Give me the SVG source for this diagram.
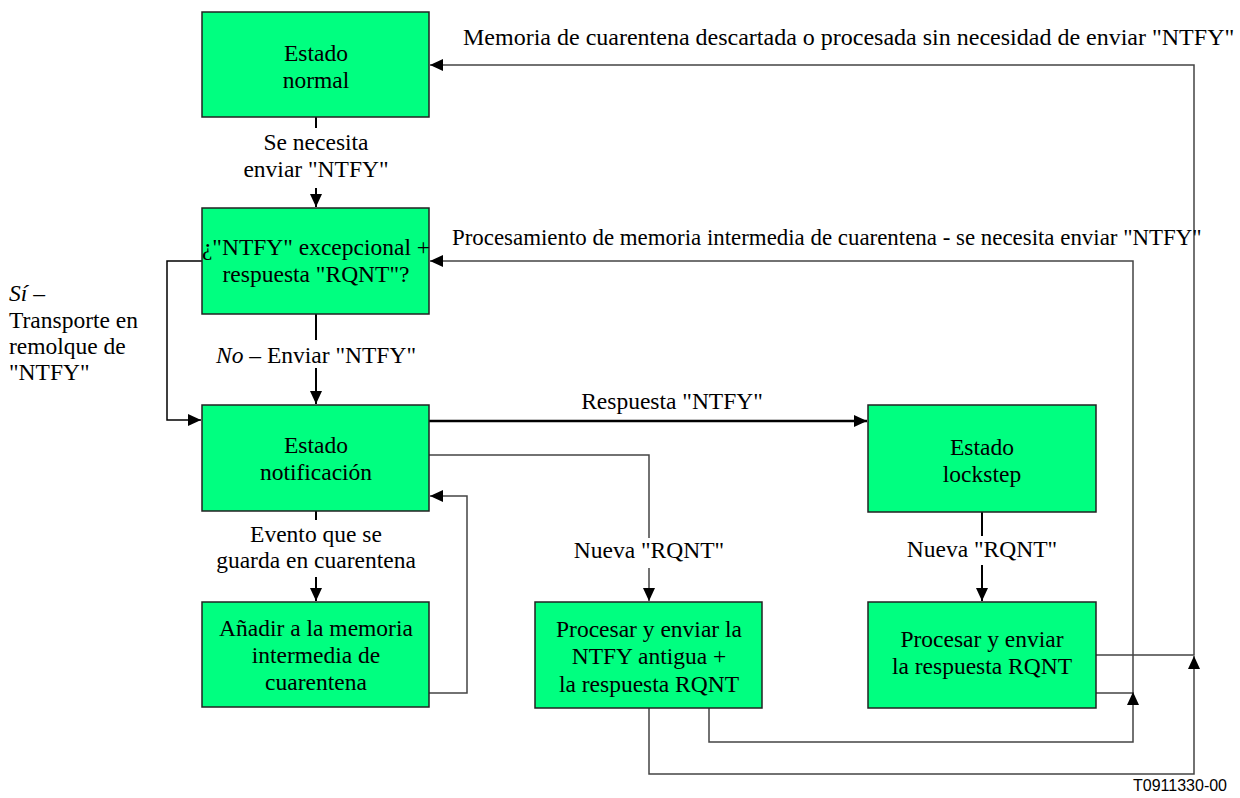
<svg xmlns="http://www.w3.org/2000/svg" width="1240" height="798" viewBox="0 0 1240 798">
<style>
.box{fill:#00FF80;stroke:#222;stroke-width:1.5}
.t{font-family:'Liberation Serif','Times New Roman',Tinos,'DejaVu Serif',serif;font-size:23.5px;fill:#000;text-anchor:middle}
.tl{font-family:'Liberation Serif','Times New Roman',Tinos,'DejaVu Serif',serif;font-size:23.5px;fill:#000}
.c{fill:none;stroke:#000;stroke-width:2}
.g{fill:none;stroke:#444;stroke-width:1.5}
.code{font-family:'Liberation Sans',Arial,sans-serif;font-size:16px;fill:#000}
</style>
<defs>
<marker id="ah" markerUnits="userSpaceOnUse" markerWidth="14" markerHeight="12" refX="13" refY="6" orient="auto">
<path d="M0,0 L13,6 L0,12 Z" fill="#000"/>
</marker>
</defs>
<rect width="1240" height="798" fill="#fff"/>
<g id="connectors">
<path class="c" d="M316,117 V128"/>
<path class="c" d="M316,188 V207" marker-end="url(#ah)"/>
<path class="c" d="M316,314 V340"/>
<path class="c" d="M316,368 V404" marker-end="url(#ah)"/>
<path class="g" style="stroke:#000" d="M202,261 H167 V420 H201" marker-end="url(#ah)"/>
<path class="c" style="stroke-width:2.5" d="M429,421 H867" marker-end="url(#ah)"/>
<path class="g" d="M429,455 H649 V538"/>
<path class="g" d="M649,568 V601" marker-end="url(#ah)"/>
<path class="c" d="M316,511 V520"/>
<path class="c" d="M316,577 V601" marker-end="url(#ah)"/>
<path class="g" d="M429,693 H467 V496 H430" marker-end="url(#ah)"/>
<path class="c" d="M982,512 V536"/>
<path class="c" d="M982,565 V601" marker-end="url(#ah)"/>
<path class="g" d="M1096,655 H1194 V65 H430" marker-end="url(#ah)"/>
<path class="g" d="M1096,693 H1133 V261 H430" marker-end="url(#ah)"/>
<path class="g" d="M649,708 V774 H1194 V656" marker-end="url(#ah)"/>
<path class="g" d="M709,708 V742 H1133 V692" marker-end="url(#ah)"/>
</g>
<g id="labels">
<text class="t" x="316" y="150">Se necesita</text>
<text class="t" x="316" y="177">enviar "NTFY"</text>
<text class="t" x="316" y="363"><tspan font-style="italic">No</tspan> – Enviar "NTFY"</text>
<text class="t" x="316" y="542">Evento que se</text>
<text class="t" x="316" y="568">guarda en cuarentena</text>
<text class="t" x="672" y="409">Respuesta "NTFY"</text>
<text class="t" x="649" y="558">Nueva "RQNT"</text>
<text class="t" x="982" y="557">Nueva "RQNT"</text>
<text class="tl" x="463" y="45" style="font-size:24px">Memoria de cuarentena descartada o procesada sin necesidad de enviar "NTFY"</text>
<text class="tl" x="452" y="245" style="font-size:22.9px">Procesamiento de memoria intermedia de cuarentena - se necesita enviar "NTFY"</text>
<text class="tl" x="9" y="301"><tspan font-style="italic">Sí</tspan> –</text>
<text class="tl" x="9" y="328">Transporte en</text>
<text class="tl" x="9" y="354">remolque de</text>
<text class="tl" x="9" y="380">"NTFY"</text>
</g>
<g id="n1"><rect class="box" x="202" y="12" width="227" height="105"/>
<text class="t" x="316" y="61">Estado</text><text class="t" x="316" y="88">normal</text></g>
<g id="n2"><rect class="box" x="202" y="208" width="227" height="106"/>
<text class="t" x="316" y="255">¿"NTFY" excepcional +</text><text class="t" x="316" y="282">respuesta "RQNT"?</text></g>
<g id="n3"><rect class="box" x="202" y="405" width="227" height="106"/>
<text class="t" x="316" y="453">Estado</text><text class="t" x="316" y="480">notificación</text></g>
<g id="n4"><rect class="box" x="202" y="602" width="227" height="105"/>
<text class="t" x="316" y="636">Añadir a la memoria</text><text class="t" x="316" y="663">intermedia de</text><text class="t" x="316" y="690">cuarentena</text></g>
<g id="n5"><rect class="box" x="535" y="602" width="227" height="106"/>
<text class="t" x="649" y="637">Procesar y enviar la</text><text class="t" x="649" y="664">NTFY antigua +</text><text class="t" x="649" y="692">la respuesta RQNT</text></g>
<g id="n6"><rect class="box" x="868" y="405" width="228" height="107"/>
<text class="t" x="982" y="455">Estado</text><text class="t" x="982" y="482">lockstep</text></g>
<g id="n7"><rect class="box" x="868" y="602" width="228" height="106"/>
<text class="t" x="982" y="647">Procesar y enviar</text><text class="t" x="982" y="674">la respuesta RQNT</text></g>
<text class="code" x="1133" y="791">T0911330-00</text>
</svg>
